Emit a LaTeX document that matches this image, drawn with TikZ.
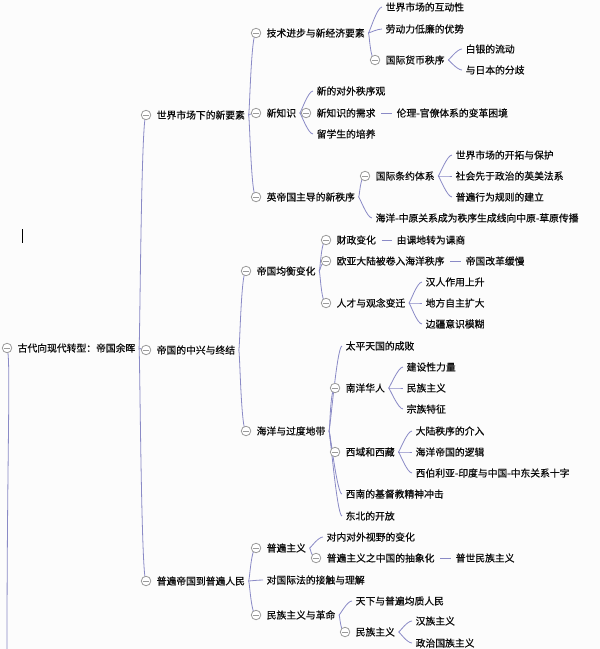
\documentclass[tikz,border=0pt]{standalone}
\usepackage{fontspec}
\setmainfont{Noto Sans CJK SC}[FakeBold=0.6]
\usetikzlibrary{
    backgrounds,
    positioning
}
\definecolor{linkcolor}{RGB}{138,138,198}
\definecolor{foldcolor}{RGB}{155,155,155}
\definecolor{topiccolor}{RGB}{10,10,10}
\definecolor{pagecolor}{RGB}{252,252,252}

\begin{document}
\begin{tikzpicture}[
    x=1pt, y=-1pt,
    topic/.style={
      anchor=west,
      inner sep=0.5pt,
      text=topiccolor,
      font=\fontsize{9.8}{12}\selectfont
    },
    fold/.style={
      circle,
      draw=foldcolor,
      fill=white,
      line width=0.8pt,
      minimum size=9.5pt,
      inner sep=0pt,
      left=4.8pt of #1,
      path picture={
        \draw[foldcolor, line width=0.8pt]
          ([xshift=-3pt]path picture bounding box.center) --
          ([xshift=3pt]path picture bounding box.center);
      }
    },
    link/.style={
      draw=linkcolor,
      line width=0.8pt
    },
    branch/.style={
      to path={.. controls +(1,0) and +(-5,0) .. (\tikztotarget)}
    }
  ]

  \useasboundingbox (0,0) rectangle (600,649);

  % root {{{
  \node[topic] (root) at (17,348) {古代向现代转型：帝国余晖};
  \node[fold=root] (root-f) {};
  \coordinate (root-down) at (7,649);
  % text cursor
  \draw[line width=0.8pt] (22,229) -- (22,243);
  % }}}

  % 1. 世界市场下的新要素 {{{
  \node[topic] (newfactor) at (156,115) {世界市场下的新要素};
  \node[fold=newfactor] (newfactor-f) {};

  \node[topic] (tech) at (266,33) {技术进步与新经济要素};
  \node[fold=tech] (tech-f) {};
  \node[topic] (interact) at (385,7) {世界市场的互动性};
  \node[topic] (labour) at (385,29) {劳动力低廉的优势};
  \node[topic] (currency) at (385,60) {国际货币秩序};
  \node[fold=currency] (currency-f) {};
  \node[topic] (silver) at (465,49) {白银的流动};
  \node[topic] (japan) at (465,70) {与日本的分歧};

  \node[topic] (knowledge) at (266,113) {新知识};
  \node[fold=knowledge] (knowledge-f) {};
  \node[topic] (outlook) at (316,91) {新的对外秩序观};
  \node[topic] (demand) at (316,113) {新知识的需求};
  \node[fold=demand] (demand-f) {};
  \node[topic] (ethics) at (396,113) {伦理-官僚体系的变革困境};
  \node[topic] (students) at (316,134) {留学生的培养};

  \node[topic] (british) at (266,197) {英帝国主导的新秩序};
  \node[fold=british] (british-f) {};
  \node[topic] (treaty) at (375,176) {国际条约体系};
  \node[fold=treaty] (treaty-f) {};
  \node[topic] (explore) at (455,155) {世界市场的开拓与保护};
  \node[topic] (commonlaw) at (455,176) {社会先于政治的英美法系};
  \node[topic] (rules) at (455,197) {普遍行为规则的建立};
  \node[topic] (maritime) at (375,218) {海洋-中原关系成为秩序生成线向中原-草原传播};
  % }}}

  % 2. 帝国的中兴与终结 {{{
  \node[topic] (revival) at (156,350) {帝国的中兴与终结};
  \node[fold=revival] (revival-f) {};

  \node[topic] (balance) at (256,271) {帝国均衡变化};
  \node[fold=balance] (balance-f) {};
  \node[topic] (finance) at (336,240) {财政变化};
  \node[fold=finance] (finance-f) {};
  \node[topic] (tax) at (396,240) {由课地转为课商};
  \node[topic] (eurasia) at (336,261) {欧亚大陆被卷入海洋秩序};
  \node[fold=eurasia] (eurasia-f) {};
  \node[topic] (reform) at (465,261) {帝国改革缓慢};
  \node[topic] (talent) at (336,303) {人才与观念变迁};
  \node[fold=talent] (talent-f) {};
  \node[topic] (han) at (425,282) {汉人作用上升};
  \node[topic] (local) at (425,303) {地方自主扩大};
  \node[topic] (border) at (425,324) {边疆意识模糊};

  \node[topic] (frontier) at (256,431) {海洋与过度地带};
  \node[fold=frontier] (frontier-f) {};
  \node[topic] (taiping) at (345,346) {太平天国的成败};
  \node[topic] (nanyang) at (345,388) {南洋华人};
  \node[fold=nanyang] (nanyang-f) {};
  \node[topic] (build) at (406,367) {建设性力量};
  \node[topic] (nation) at (406,388) {民族主义};
  \node[topic] (clan) at (406,409) {宗族特征};
  \node[topic] (west) at (345,452) {西域和西藏};
  \node[fold=west] (west-f) {};
  \node[topic] (continent) at (415,431) {大陆秩序的介入};
  \node[topic] (oceanlogic) at (415,452) {海洋帝国的逻辑};
  \node[topic] (cross) at (415,473) {西伯利亚-印度与中国-中东关系十字};
  \node[topic] (christian) at (345,494) {西南的基督教精神冲击};
  \node[topic] (northeast) at (345,516) {东北的开放};
  % }}}

  % 3. 普遍帝国到普遍人民 {{{
  \node[topic] (universal) at (156,581) {普遍帝国到普遍人民};
  \node[fold=universal] (universal-f) {};

  \node[topic] (univ) at (266,548) {普遍主义};
  \node[fold=univ] (univ-f) {};
  \node[topic] (vision) at (326,537) {对内对外视野的变化};
  \node[topic] (abstract) at (326,558) {普遍主义之中国的抽象化};
  \node[fold=abstract] (abstract-f) {};
  \node[topic] (cosmo) at (455,558) {普世民族主义};

  \node[topic] (intlaw) at (266,580) {对国际法的接触与理解};

  \node[topic] (revolution) at (266,615) {民族主义与革命};
  \node[fold=revolution] (revolution-f) {};
  \node[topic] (tianxia) at (355,601) {天下与普遍均质人民};
  \node[topic] (nationalism) at (355,632) {民族主义};
  \node[fold=nationalism] (nationalism-f) {};
  \node[topic] (hanzu) at (415,621) {汉族主义};
  \node[topic] (state) at (415,643) {政治国族主义};
  % }}}

  \begin{scope}[on background layer]
    \fill[pagecolor] (0,0) rectangle (600,649);

    % root links {{{
    \draw[link] (root-f.center) .. controls +(4,10) and +(0,-200) .. (root-down);
    \draw[link] ([xshift=3pt]root.east) to[branch] (newfactor-f.center);
    \draw[link] ([xshift=3pt]root.east) to[branch] (revival-f.center);
    \draw[link] ([xshift=3pt]root.east) to[branch] (universal-f.center);
    % }}}

    % 1. links {{{
    \draw[link] ([xshift=3pt]newfactor.east) to[branch] (tech-f.center);
    \draw[link] ([xshift=3pt]newfactor.east) to[branch] (knowledge-f.center);
    \draw[link] ([xshift=3pt]newfactor.east) to[branch] (british-f.center);

    \draw[link] ([xshift=3pt]tech.east) to[branch] ([xshift=-3pt]interact.west);
    \draw[link] ([xshift=3pt]tech.east) to[branch] ([xshift=-3pt]labour.west);
    \draw[link] ([xshift=3pt]tech.east) to[branch] (currency-f.center);
    \draw[link] ([xshift=3pt]currency.east) to[branch] ([xshift=-3pt]silver.west);
    \draw[link] ([xshift=3pt]currency.east) to[branch] ([xshift=-3pt]japan.west);

    \draw[link] ([xshift=3pt]knowledge.east) to[branch] ([xshift=-3pt]outlook.west);
    \draw[link] ([xshift=3pt]knowledge.east) to[branch] (demand-f.center);
    \draw[link] ([xshift=3pt]knowledge.east) to[branch] ([xshift=-3pt]students.west);
    \draw[link] ([xshift=5pt]demand.east) -- ([xshift=-4pt]ethics.west);

    \draw[link] ([xshift=3pt]british.east) to[branch] (treaty-f.center);
    \draw[link] ([xshift=3pt]british.east) to[branch] ([xshift=-3pt]maritime.west);
    \draw[link] ([xshift=3pt]treaty.east) to[branch] ([xshift=-3pt]explore.west);
    \draw[link] ([xshift=3pt]treaty.east) to[branch] ([xshift=-3pt]commonlaw.west);
    \draw[link] ([xshift=3pt]treaty.east) to[branch] ([xshift=-3pt]rules.west);
    % }}}

    % 2. links {{{
    \draw[link] ([xshift=3pt]revival.east) to[branch] (balance-f.center);
    \draw[link] ([xshift=3pt]revival.east) to[branch] (frontier-f.center);

    \draw[link] ([xshift=3pt]balance.east) to[branch] (finance-f.center);
    \draw[link] ([xshift=3pt]balance.east) to[branch] (eurasia-f.center);
    \draw[link] ([xshift=3pt]balance.east) to[branch] (talent-f.center);
    \draw[link] ([xshift=5pt]finance.east) -- ([xshift=-4pt]tax.west);
    \draw[link] ([xshift=5pt]eurasia.east) -- ([xshift=-4pt]reform.west);
    \draw[link] ([xshift=3pt]talent.east) to[branch] ([xshift=-3pt]han.west);
    \draw[link] ([xshift=3pt]talent.east) to[branch] ([xshift=-3pt]local.west);
    \draw[link] ([xshift=3pt]talent.east) to[branch] ([xshift=-3pt]border.west);

    \draw[link] ([xshift=3pt]frontier.east) to[branch] ([xshift=-3pt]taiping.west);
    \draw[link] ([xshift=3pt]frontier.east) to[branch] (nanyang-f.center);
    \draw[link] ([xshift=3pt]frontier.east) to[branch] (west-f.center);
    \draw[link] ([xshift=3pt]frontier.east) to[branch] ([xshift=-3pt]christian.west);
    \draw[link] ([xshift=3pt]frontier.east) to[branch] ([xshift=-3pt]northeast.west);
    \draw[link] ([xshift=3pt]nanyang.east) to[branch] ([xshift=-3pt]build.west);
    \draw[link] ([xshift=3pt]nanyang.east) to[branch] ([xshift=-3pt]nation.west);
    \draw[link] ([xshift=3pt]nanyang.east) to[branch] ([xshift=-3pt]clan.west);
    \draw[link] ([xshift=3pt]west.east) to[branch] ([xshift=-3pt]continent.west);
    \draw[link] ([xshift=3pt]west.east) to[branch] ([xshift=-3pt]oceanlogic.west);
    \draw[link] ([xshift=3pt]west.east) to[branch] ([xshift=-3pt]cross.west);
    % }}}

    % 3. links {{{
    \draw[link] ([xshift=3pt]universal.east) to[branch] (univ-f.center);
    \draw[link] ([xshift=3pt]universal.east) to[branch] ([xshift=-3pt]intlaw.west);
    \draw[link] ([xshift=3pt]universal.east) to[branch] (revolution-f.center);

    \draw[link] ([xshift=3pt]univ.east) to[branch] ([xshift=-3pt]vision.west);
    \draw[link] ([xshift=3pt]univ.east) to[branch] (abstract-f.center);
    \draw[link] ([xshift=5pt]abstract.east) -- ([xshift=-4pt]cosmo.west);

    \draw[link] ([xshift=3pt]revolution.east) to[branch] ([xshift=-3pt]tianxia.west);
    \draw[link] ([xshift=3pt]revolution.east) to[branch] (nationalism-f.center);
    \draw[link] ([xshift=3pt]nationalism.east) to[branch] ([xshift=-3pt]hanzu.west);
    \draw[link] ([xshift=3pt]nationalism.east) to[branch] ([xshift=-3pt]state.west);
    % }}}
  \end{scope}

\end{tikzpicture}
\end{document}
